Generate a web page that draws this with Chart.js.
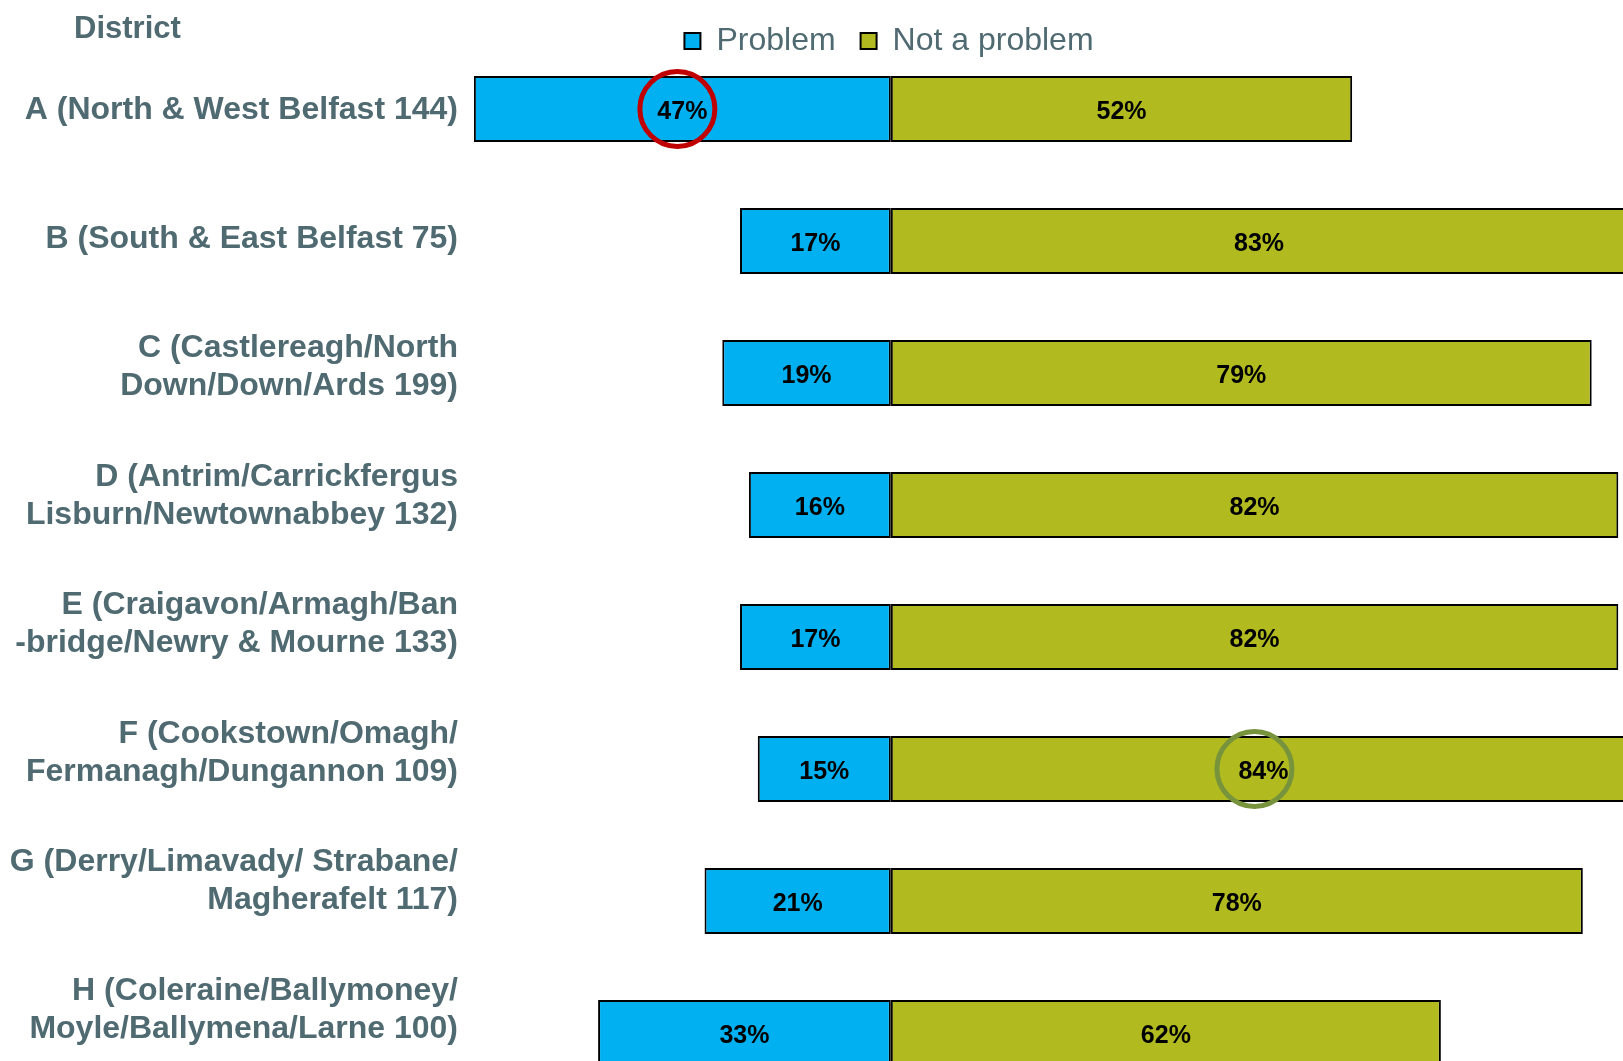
<!DOCTYPE html>
<html>
<head>
<meta charset="utf-8">
<script src="https://cdn.jsdelivr.net/npm/chart.js@4/dist/chart.umd.min.js"></script>
<style>
  html, body { margin: 0; padding: 0; background: #ffffff; overflow: hidden; width: 1623px; height: 1061px; }
  #wrap { position: relative; width: 1778px; height: 1099px; }
  canvas { display: block; }
</style>
</head>
<body>
<div id="wrap"><canvas id="c" width="1778" height="1099"></canvas></div>
<script>
const axisTitle = 'District';
const seriesNames = ['Problem', 'Not a problem'];
const categories = [
  'A (North & West Belfast 144)',
  'B (South & East Belfast 75)',
  ['C (Castlereagh/North', 'Down/Down/Ards 199)'],
  ['D (Antrim/Carrickfergus', 'Lisburn/Newtownabbey 132)'],
  ['E (Craigavon/Armagh/Ban', '-bridge/Newry & Mourne 133)'],
  ['F (Cookstown/Omagh/', 'Fermanagh/Dungannon 109)'],
  ['G (Derry/Limavady/ Strabane/', 'Magherafelt 117)'],
  ['H (Coleraine/Ballymoney/', 'Moyle/Ballymena/Larne 100)']
];
const problemValues = [47, 17, 19, 16, 17, 15, 21, 33];
const notProblemValues = [52, 83, 79, 82, 82, 84, 78, 62];
// highlighted labels: which series / category is circled
const highlightSeries = [0, 1];
const highlightIndex = [0, 5];

const FONT = '"Liberation Sans", Arial, Helvetica, sans-serif';
const TEXT_COLOR = '#506A72';
const highlightColors = ['#C00000', '#77933C'];
const highlightDx = [-5, -9];

const labelPlugin = {
  id: 'barLabels',
  afterLayout(chart) {
    // let the (height-capped) legend draw its full text
    if (chart.legend) { chart.legend.bottom = chart.legend.top + 90; }
  },
  afterDatasetsDraw(chart) {
    const ctx = chart.ctx;
    ctx.save();
    ctx.font = 'bold 25px ' + FONT;
    ctx.fillStyle = '#000000';
    ctx.textAlign = 'center';
    ctx.textBaseline = 'middle';
    chart.data.datasets.forEach((ds, di) => {
      const meta = chart.getDatasetMeta(di);
      meta.data.forEach((el, i) => {
        const p = el.getProps(['x', 'y', 'base'], true);
        const cx = (p.x + p.base) / 2;
        ctx.fillText(Math.abs(ds.data[i]) + '%', cx, p.y + 3);
      });
    });
    highlightSeries.forEach((di, k) => {
      const el = chart.getDatasetMeta(di).data[highlightIndex[k]];
      const p = el.getProps(['x', 'y', 'base'], true);
      const cx = (p.x + p.base) / 2 + highlightDx[k];
      ctx.beginPath();
      ctx.lineWidth = 5;
      ctx.strokeStyle = highlightColors[k];
      ctx.arc(cx, p.y, 37.5, 0, Math.PI * 2);
      ctx.stroke();
    });
    ctx.restore();
  },
  afterDraw(chart) {
    const ctx = chart.ctx;
    ctx.save();
    ctx.font = 'bold 31px ' + FONT;
    ctx.fillStyle = TEXT_COLOR;
    ctx.textAlign = 'left';
    ctx.textBaseline = 'alphabetic';
    ctx.fillText(axisTitle, 74, 38);
    ctx.restore();
  }
};

new Chart(document.getElementById('c'), {
  type: 'bar',
  data: {
    labels: categories,
    datasets: [
      {
        label: seriesNames[0],
        data: problemValues.map(v => -v),
        backgroundColor: '#00B0F0',
        borderColor: '#000000',
        borderWidth: 2,
        borderSkipped: false,
        barPercentage: 0.5,
        categoryPercentage: 1.0
      },
      {
        label: seriesNames[1],
        data: notProblemValues,
        backgroundColor: '#B1BA1F',
        borderColor: '#000000',
        borderWidth: 2,
        borderSkipped: false,
        barPercentage: 0.5,
        categoryPercentage: 1.0
      }
    ]
  },
  options: {
    indexAxis: 'y',
    responsive: false,
    animation: false,
    layout: { padding: 0 },
    plugins: {
      legend: {
        display: true,
        position: 'top',
        align: 'center',
        maxHeight: 43,
        labels: {
          boxWidth: 16,
          boxHeight: 16,
          padding: 25,
          color: TEXT_COLOR,
          font: { family: FONT, size: 32 }
        }
      },
      tooltip: { enabled: false },
      title: { display: false }
    },
    scales: {
      x: {
        type: 'linear',
        stacked: true,
        min: -48,
        max: 100,
        display: false
      },
      y: {
        type: 'category',
        stacked: true,
        display: false
      },
      yLabels: {
        type: 'linear',
        position: 'left',
        reverse: true,
        offset: false,
        min: -0.525,
        max: 7.693,
        grid: { display: false, drawTicks: false, offset: false },
        border: { display: false },
        afterBuildTicks(scale) {
          scale.ticks = categories.map((c, i) => ({ value: i }));
        },
        afterFit(scale) {
          scale.width = 465;
          scale.paddingTop = 0;
          scale.paddingBottom = 0;
        },
        ticks: {
          autoSkip: false,
          padding: 7,
          color: TEXT_COLOR,
          font: { family: FONT, size: 32, weight: 'bold', lineHeight: 1.2 },
          callback: (value) => categories[value]
        }
      }
    }
  },
  plugins: [labelPlugin]
});
</script>
</body>
</html>
